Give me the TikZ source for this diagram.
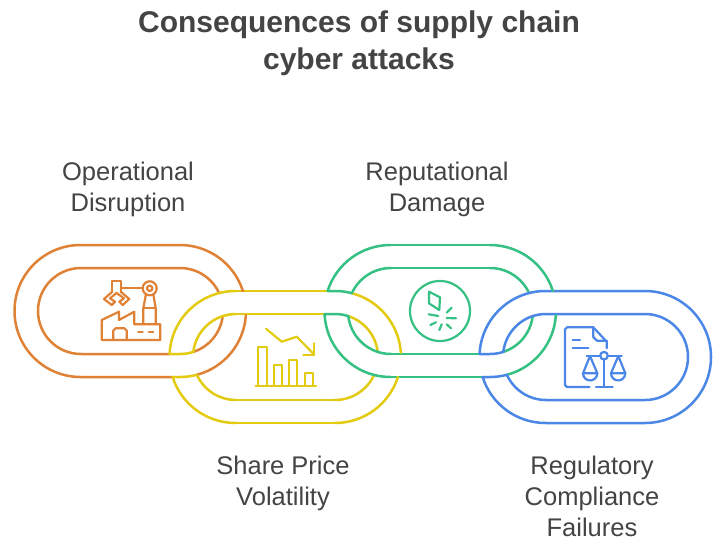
\documentclass[tikz,border=0pt]{standalone}
\usepackage{fontspec}
\setmainfont{Liberation Sans}
\definecolor{cOrange}{HTML}{E08236}
\definecolor{cYellow}{HTML}{E3CB12}
\definecolor{cGreen}{HTML}{35C184}
\definecolor{cBlue}{HTML}{4B87E6}
\definecolor{cText}{HTML}{444444}
\tikzset{
  linkline/.style={line width=2.5pt,line cap=round,line join=round},
  iconline/.style={line width=2.2pt,line cap=round,line join=round},
  label/.style={text=cText,font=\fontsize{25.5}{31}\selectfont,align=center,inner sep=0pt},
  headline/.style={text=cText,font=\fontsize{30}{37.5}\selectfont\bfseries,align=center,inner sep=0pt}
}
% the crossing of a left link (colour 1) with the next link to its right (colour 2)
\newcommand{\jointlinks}[2]{%
  \draw[linkline,#1] (180,245) arc[start angle=-90,end angle=-17.64,radius=66];
  \draw[linkline,#1] (180,268) arc[start angle=-90,end angle=-24.65,radius=43];
  \draw[linkline,#1] ({180+66*cos(3.6)},{311+66*sin(3.6)}) arc[start angle=3.6,end angle=75.2,radius=66];
  \draw[linkline,#1] ({180+43*cos(6.8)},{311+43*sin(6.8)}) arc[start angle=6.8,end angle=72,radius=43];
  % band edges in the colour of the right link, and its upper left arcs
  \draw[linkline,#2] (235.5,291) arc[start angle=270,end angle=182.6,radius=66] -- (180,354)
     arc[start angle=90,end angle=72,radius=43];
  \draw[linkline,#2] (236,314) arc[start angle=270,end angle=186.8,radius=43];
  \draw[linkline,#2] (235.5,423) arc[start angle=90,end angle=162.36,radius=66] -- (180,377)
     arc[start angle=90,end angle=75.2,radius=66];
  \draw[linkline,#2] (236,400) arc[start angle=90,end angle=155.5,radius=43];
}
\begin{document}
\begin{tikzpicture}[x=1pt,y=-1pt]
\useasboundingbox (0,0) rectangle (727,552);
\fill[white] (0,0) rectangle (727,552);

\node[headline] (title) at (359,43) {Consequences of supply chain\\cyber attacks};
\node[label] (opdis) at (128,189.5) {Operational\\Disruption};
\node[label] (repdam) at (437,189.5) {Reputational\\Damage};
\node[label] (share) at (283,483.5) {Share Price\\Volatility};
\node[label] (regul) at (592,496) {Regulatory\\Compliance\\Failures};

% straight runs and free ends of the links
\draw[linkline,cOrange] (180,245) -- (80.5,245) arc[start angle=270,end angle=90,radius=66] -- (172.6,377);
\draw[linkline,cOrange] (180,268) -- (81,268) arc[start angle=270,end angle=90,radius=43] -- (169.57,354);
\draw[linkline,cYellow] (235.5,291) -- (335,291);
\draw[linkline,cYellow] (236,314) -- (335,314);
\draw[linkline,cYellow] (235.5,423) -- (335,423);
\draw[linkline,cYellow] (236,400) -- (335,400);
\draw[linkline,cGreen] (390.5,245) -- (490,245);
\draw[linkline,cGreen] (391,268) -- (490,268);
\draw[linkline,cGreen] (390.5,377) -- (482.6,377);
\draw[linkline,cGreen] (391,354) -- (479.57,354);
\draw[linkline,cBlue] (545.5,291) -- (645,291) arc[start angle=-90,end angle=90,radius=66] -- (545.5,423);
\draw[linkline,cBlue] (546,314) -- (645,314) arc[start angle=-90,end angle=90,radius=43] -- (546,400);

% crossings
\begin{scope}
  \jointlinks{cOrange}{cYellow}
\end{scope}
\begin{scope}[shift={(155,668)},yscale=-1]
  \jointlinks{cYellow}{cGreen}
\end{scope}
\begin{scope}[shift={(310,0)}]
  \jointlinks{cGreen}{cBlue}
\end{scope}

% factory icon
\begin{scope}[iconline,cOrange]
  \draw (101.7,340) -- (101.7,320) -- (119,311.7) -- (119,320) -- (134.3,311.7) -- (134.3,324.3) -- (160.3,324.3) -- (160.3,340) -- cycle;
  \draw (113.3,340) -- (113.3,330.5) -- (115.5,328.3) -- (124.5,328.3) -- (126.7,330.5) -- (126.7,340);
  \draw (138.3,332) -- (142.7,332);
  \draw (149,332) -- (153.3,332);
  \draw (143.3,324.3) -- (143.3,308.3) -- (146,294);
  \draw (155.7,324.3) -- (155.7,308.3) -- (153.3,294);
  \draw (143.3,308.3) -- (155.7,308.3);
  \draw (149.7,288.3) circle[radius=7];
  \draw (149.7,288.3) circle[radius=2.7];
  \draw (120.7,288.3) -- (142.7,288.3);
  \draw (112.3,291.7) -- (112.3,281) -- (120.7,281) -- (120.7,291.7);
  \draw (112.3,291.7) -- (104,299) -- (111.7,305) -- (115,301.7) -- (110,298.3) -- (116.5,293);
  \draw (120.7,291.7) -- (129.3,299) -- (122.7,305) -- (119.3,301.7) -- (124,298.3) -- (116.5,293);
\end{scope}

% falling chart icon
\begin{scope}[iconline,cYellow]
  \draw (255.7,385.7) -- (316,385.7);
  \draw (258.3,385.7) -- (258.3,346.7) -- (266.7,346.7) -- (266.7,385.7);
  \draw (274,385.7) -- (274,365.3) -- (281.7,365.3) -- (281.7,385.7);
  \draw (289.3,385.7) -- (289.3,360) -- (297.3,360) -- (297.3,385.7);
  \draw (305,385.7) -- (305,372.7) -- (313,372.7) -- (313,385.7);
  \draw (266,328.7) -- (281.7,341.7) -- (296.7,336.7) -- (314.3,354.7);
  \draw (314.3,343.3) -- (314.3,354.7) -- (303.3,354.7);
\end{scope}

% broken gem icon
\begin{scope}[iconline,cGreen]
  \draw (440,311) circle[radius=30];
  \draw (429,291.7) -- (440,297.3) -- (439.3,310) -- (429,303.3) -- cycle;
  \draw (428.7,314.3) -- (438.3,316);
  \draw (446.7,312.7) -- (451.7,307.7);
  \draw (446.7,318) -- (456,318.3);
  \draw (430.3,325) -- (436,322.3);
  \draw (439.3,330) -- (441.7,324.3);
  \draw (446.7,324.3) -- (451,328.3);
\end{scope}

% document and scales icon
\begin{scope}[iconline,cBlue]
  \draw (589.5,387) -- (567,387) -- (565,385) -- (565,329.3) -- (567,327.3) -- (593.3,327.3) -- (606.7,341.7) -- (606.7,348.3);
  \draw (593.3,327.3) -- (593.3,337) -- (597,340.7) -- (606.7,340.7);
  \draw (572.7,340.3) -- (580,340.3);
  \draw (572.7,348) -- (588.3,348);
  \draw (604,355.7) circle[radius=3.8];
  \draw (586.7,355.7) -- (600.2,355.7);
  \draw (607.8,355.7) -- (621.7,355.7);
  \draw (604,359.5) -- (604,387);
  \draw (596,387) -- (612.7,387);
  \draw (590,356) -- (583,373.3) -- (597.3,373.3) -- cycle;
  \draw (583,373.3) arc[start angle=180,end angle=0,radius=7.15];
  \draw (618.3,356) -- (611,373.3) -- (625.3,373.3) -- cycle;
  \draw (611,373.3) arc[start angle=180,end angle=0,radius=7.15];
\end{scope}
\end{tikzpicture}
\end{document}
